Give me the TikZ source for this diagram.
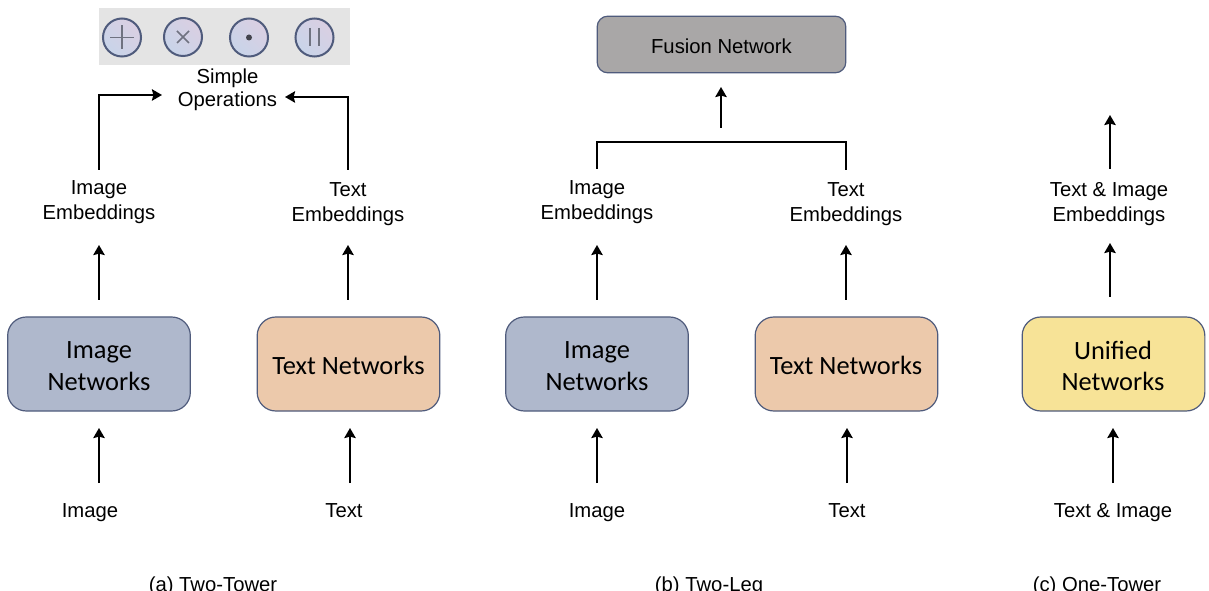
\documentclass[tikz,border=0pt]{standalone}
\usepackage{fontspec}
\setmainfont{Liberation Sans}
\newfontfamily\boxfont{Carlito}
\usetikzlibrary{arrows.meta}
\definecolor{edgeblue}{HTML}{4F5B7C}
\definecolor{imgfill}{HTML}{AFB8CC}
\definecolor{txtfill}{HTML}{ECC9AB}
\definecolor{uniffill}{HTML}{F7E397}
\definecolor{fusfill}{HTML}{A9A7A7}
\definecolor{opsfill}{HTML}{E4E4E4}
\definecolor{circa}{HTML}{DACFE2}
\definecolor{circb}{HTML}{C8D4E9}
\definecolor{glyph}{HTML}{6F7280}
\tikzset{
  arr/.style={draw=black,line width=1.5pt,-{Stealth[length=7.5pt,width=8.5pt,inset=1pt]}},
  brk/.style={draw=black,line width=1.5pt},
  netbox/.style={draw=edgeblue,line width=0.9pt,rounded corners=14pt,minimum width=137pt,minimum height=70.5pt,inner sep=0pt,align=center,
     font=\boxfont\fontsize{19.8}{23.5}\selectfont},
  boxtext/.style={inner sep=0pt,align=center,font=\boxfont\fontsize{19.8}{23.5}\selectfont},
  lab/.style={inner sep=0pt,align=center,font=\fontsize{15.2}{18.9}\selectfont},
  inlab/.style={inner sep=0pt,anchor=base,font=\fontsize{15.2}{18.9}\selectfont},
  captext/.style={inner sep=0pt,anchor=base,font=\fontsize{15.2}{18}\selectfont},
  opc/.style={circle,draw=edgeblue,line width=1.5pt,minimum size=28.5pt,inner sep=0pt,left color=circa,right color=circb,shading angle=-45},
  gl/.style={draw=glyph,line width=1.3pt}
}
\begin{document}
\begin{tikzpicture}[x=0.75pt,y=-0.75pt]
\useasboundingbox (0,0) rectangle (1209,591);
\clip (0,0) rectangle (1209,591);
% operations panel
\node[fill=opsfill,minimum width=188.5pt,minimum height=43pt,inner sep=0pt] (panel) at (224.5,36.5) {};
\node[opc] (opa) at (122,37.5) {};
\node[opc] (opb) at (183,37) {};
\node[opc] (opc1) at (249,37.5) {};
\node[opc] (opd) at (314.5,37.5) {};
\draw[gl] (110,37.5) -- (134,37.5) (122,25.5) -- (122,49.5);
\draw[gl] (177,31) -- (189,43) (177,43) -- (189,31);
\fill[glyph!60!black] (opc1) circle (3);
\draw[gl,line width=2pt] (310,28) -- (310,46) (319,28) -- (319,46);
\node[lab,font=\fontsize{15.2}{17.3}\selectfont] (ops) at (227.5,89.5) {Simple\\Operations};
% boxes
\node[netbox,fill=imgfill] (imgA) at (99,364) {};
\node[netbox,fill=txtfill] (txtA) at (348.5,364) {};
\node[netbox,fill=imgfill] (imgB) at (597,364) {};
\node[netbox,fill=txtfill] (txtB) at (846.5,364) {};
\node[netbox,fill=uniffill] (uni) at (1113.5,364) {};
\node[boxtext] (imgAt) at (99,366) {Image\\Networks};
\node[boxtext] (txtAt) at (348.5,365.5) {Text Networks};
\node[boxtext] (imgBt) at (597,366) {Image\\Networks};
\node[boxtext] (txtBt) at (846,365.5) {Text Networks};
\node[boxtext] (unit) at (1113,366) {Unified\\Networks};
\node[netbox,fill=fusfill,minimum width=186.5pt,minimum height=42.5pt,rounded corners=8pt] (fus) at (721.5,44.5) {};
\node[inlab] (fust) at (721.5,53.5) {Fusion Network};
% inputs
\node[inlab] (inA) at (90,517) {Image};
\node[inlab] (inB) at (344,517) {Text};
\node[inlab] (inC) at (597,517) {Image};
\node[inlab] (inD) at (847,517) {Text};
\node[inlab] (inE) at (1113,517) {Text \& Image};
% embeddings
\node[lab] (emA) at (99,202.5) {Image\\Embeddings};
\node[lab] (emB) at (348,204) {Text\\Embeddings};
\node[lab] (emC) at (597,202.5) {Image\\Embeddings};
\node[lab] (emD) at (846,204) {Text\\Embeddings};
\node[lab] (emE) at (1109,204) {Text \& Image\\Embeddings};
% captions
\node[captext] (capA) at (213,591) {(a) Two-Tower};
\node[captext] (capB) at (709,591) {(b) Two-Leg};
\node[captext] (capC) at (1097,591) {(c) One-Tower};
% free ends
\foreach \n/\x in {a/99,b/350,c/597,d/847,e/1113}{
  \coordinate (lo\n) at (\x,483);
  \coordinate (lt\n) at (\x,428);
}
\foreach \n/\x in {a/99,b/348,c/597,d/846}{
  \coordinate (up\n) at (\x,300);
  \coordinate (ut\n) at (\x,245);
}
\coordinate (upe) at (1110,297);
\coordinate (ute) at (1110,243);
\coordinate (tope) at (1110,169);
\coordinate (topt) at (1110,115);
\foreach \n in {a,b,c,d,e}{ \draw[arr] (lo\n) -- (lt\n); \draw[arr] (up\n) -- (ut\n); }
\draw[arr] (tope) -- (topt);
% to simple operations
\coordinate (la) at (99,170);
\coordinate (lb) at (99,95);
\coordinate (lc) at (162,95);
\coordinate (ra) at (348,170);
\coordinate (rb) at (348,97);
\coordinate (rc) at (285,97);
\draw[arr] (la) -- (lb) -- (lc);
\draw[arr] (ra) -- (rb) -- (rc);
% bracket to fusion
\coordinate (ba) at (597,169);
\coordinate (bb) at (597,142);
\coordinate (bc) at (846,142);
\coordinate (bd) at (846,170);
\draw[brk] (ba) -- (bb) -- (bc) -- (bd);
\coordinate (fa) at (721,128);
\coordinate (fb) at (721,87);
\draw[arr] (fa) -- (fb);
\end{tikzpicture}
\end{document}
